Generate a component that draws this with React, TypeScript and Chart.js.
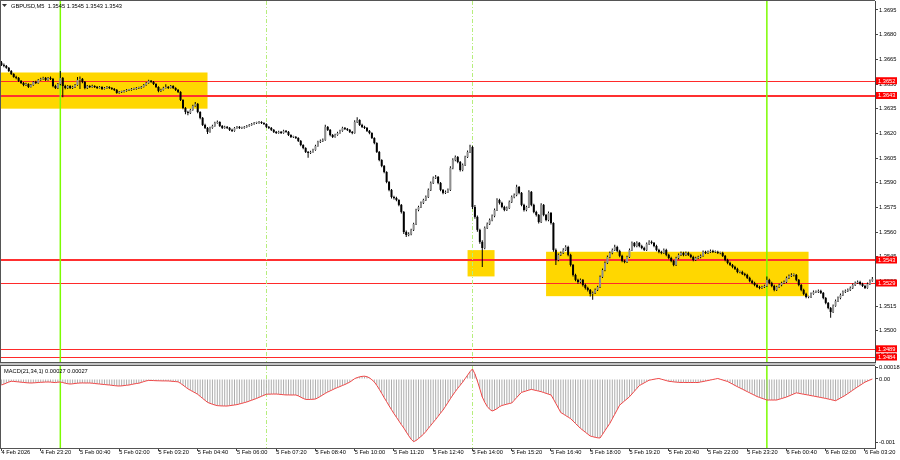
import React, { useEffect, useRef } from "react";
import { Chart, registerables } from "chart.js";

Chart.register(...registerables);

// ---------------- DATA ----------------
const TITLE_TEXT = "GBPUSD,M5  1.3545 1.3545 1.3543 1.3543";
const MACD_TEXT = "MACD(21,34,1) 0.00027 0.00027";

// first bar: 4 Feb 2026 22:00, M5 bars
const firstOpen = 1.3663;

const closes = [
1.36616,1.36610,1.36598,1.36579,1.36561,1.36543,1.36537,1.36519,1.36506,1.36494,
1.36500,1.36482,1.36494,1.36513,1.36506,1.36525,1.36531,1.36537,1.36525,1.36537,
1.36531,1.36488,1.36476,1.36500,1.36537,1.36488,1.36476,1.36488,1.36476,1.36482,
1.36494,1.36525,1.36531,1.36513,1.36476,1.36488,1.36482,1.36488,1.36482,1.36476,
1.36482,1.36470,1.36476,1.36482,1.36476,1.36470,1.36464,1.36446,1.36452,1.36452,
1.36458,1.36464,1.36464,1.36470,1.36470,1.36476,1.36476,1.36482,1.36494,1.36506,
1.36519,1.36513,1.36500,1.36482,1.36458,1.36464,1.36476,1.36482,1.36476,1.36488,
1.36476,1.36464,1.36452,1.36403,1.36354,1.36330,1.36324,1.36342,1.36367,1.36379,
1.36330,1.36294,1.36251,1.36233,1.36209,1.36233,1.36245,1.36263,1.36269,1.36245,
1.36233,1.36239,1.36233,1.36221,1.36215,1.36233,1.36239,1.36233,1.36233,1.36239,
1.36245,1.36251,1.36257,1.36263,1.36263,1.36269,1.36263,1.36257,1.36239,1.36233,
1.36221,1.36209,1.36202,1.36209,1.36202,1.36215,1.36209,1.36190,1.36178,1.36178,
1.36172,1.36154,1.36129,1.36111,1.36087,1.36081,1.36087,1.36099,1.36123,1.36148,
1.36154,1.36160,1.36239,1.36221,1.36190,1.36178,1.36190,1.36202,1.36215,1.36233,
1.36227,1.36221,1.36209,1.36202,1.36269,1.36281,1.36251,1.36239,1.36233,1.36215,
1.36202,1.36172,1.36141,1.36087,1.36038,1.36002,1.35965,1.35904,1.35856,1.35813,
1.35807,1.35795,1.35765,1.35722,1.35600,1.35582,1.35588,1.35613,1.35649,1.35734,
1.35752,1.35777,1.35795,1.35813,1.35856,1.35898,1.35929,1.35935,1.35898,1.35856,
1.35838,1.35844,1.35856,1.35990,1.36038,1.36056,1.36026,1.35977,1.36008,1.36056,
1.36087,1.36117,1.35752,1.35692,1.35613,1.35540,1.35503,1.35625,1.35649,1.35673,
1.35698,1.35734,1.35795,1.35777,1.35752,1.35734,1.35746,1.35783,1.35813,1.35825,
1.35874,1.35838,1.35765,1.35734,1.35752,1.35844,1.35765,1.35722,1.35704,1.35661,
1.35765,1.35704,1.35673,1.35716,1.35655,1.35491,1.35430,1.35461,1.35473,1.35491,
1.35509,1.35461,1.35400,1.35339,1.35309,1.35296,1.35309,1.35278,1.35260,1.35248,
1.35224,1.35230,1.35248,1.35266,1.35327,1.35369,1.35412,1.35448,1.35473,1.35491,
1.35509,1.35485,1.35455,1.35424,1.35418,1.35448,1.35491,1.35534,1.35515,1.35534,
1.35515,1.35503,1.35491,1.35528,1.35540,1.35534,1.35515,1.35491,1.35479,1.35473,
1.35491,1.35461,1.35442,1.35424,1.35400,1.35442,1.35461,1.35473,1.35461,1.35473,
1.35461,1.35448,1.35430,1.35442,1.35448,1.35455,1.35479,1.35473,1.35479,1.35485,
1.35479,1.35479,1.35473,1.35473,1.35455,1.35430,1.35412,1.35400,1.35388,1.35376,
1.35357,1.35357,1.35345,1.35339,1.35321,1.35303,1.35290,1.35278,1.35266,1.35260,
1.35266,1.35272,1.35309,1.35290,1.35272,1.35248,1.35266,1.35278,1.35290,1.35296,
1.35321,1.35333,1.35339,1.35339,1.35309,1.35278,1.35248,1.35224,1.35205,1.35205,
1.35224,1.35236,1.35236,1.35242,1.35230,1.35199,1.35169,1.35138,1.35114,1.35151,
1.35181,1.35199,1.35217,1.35236,1.35242,1.35248,1.35260,1.35278,1.35290,1.35296,
1.35284,1.35272,1.35260,1.35284,1.35303,1.35315,
];

const highs = [
1.36640,1.36624,1.36615,1.36603,1.36585,1.36566,1.36550,1.36542,1.36524,1.36512,
1.36508,1.36505,1.36500,1.36519,1.36520,1.36530,1.36538,1.36544,1.36542,1.36543,
1.36545,1.36536,1.36496,1.36506,1.36579,1.36542,1.36495,1.36494,1.36493,1.36489,
1.36500,1.36543,1.36546,1.36536,1.36518,1.36494,1.36493,1.36495,1.36492,1.36488,
1.36488,1.36486,1.36482,1.36488,1.36487,1.36480,1.36475,1.36469,1.36458,1.36459,
1.36464,1.36470,1.36470,1.36476,1.36477,1.36482,1.36483,1.36488,1.36500,1.36512,
1.36526,1.36525,1.36518,1.36504,1.36487,1.36471,1.36483,1.36498,1.36488,1.36494,
1.36493,1.36480,1.36469,1.36456,1.36408,1.36360,1.36338,1.36349,1.36374,1.36390,
1.36384,1.36335,1.36299,1.36258,1.36239,1.36240,1.36252,1.36270,1.36278,1.36274,
1.36250,1.36246,1.36244,1.36238,1.36228,1.36239,1.36245,1.36244,1.36240,1.36245,
1.36251,1.36257,1.36263,1.36269,1.36270,1.36275,1.36274,1.36268,1.36262,1.36245,
1.36238,1.36226,1.36215,1.36216,1.36214,1.36222,1.36220,1.36214,1.36195,1.36185,
1.36184,1.36177,1.36159,1.36134,1.36116,1.36093,1.36094,1.36106,1.36130,1.36155,
1.36162,1.36168,1.36252,1.36244,1.36226,1.36196,1.36197,1.36209,1.36222,1.36240,
1.36239,1.36232,1.36226,1.36214,1.36280,1.36298,1.36286,1.36258,1.36246,1.36238,
1.36220,1.36207,1.36177,1.36146,1.36092,1.36043,1.36008,1.35970,1.35910,1.35862,
1.35820,1.35814,1.35800,1.35770,1.35728,1.35610,1.35598,1.35620,1.35656,1.35742,
1.35760,1.35785,1.35803,1.35822,1.35864,1.35907,1.35938,1.35947,1.35940,1.35904,
1.35862,1.35852,1.35865,1.36000,1.36048,1.36066,1.36062,1.36032,1.36016,1.36064,
1.36096,1.36130,1.36124,1.35765,1.35700,1.35620,1.35550,1.35634,1.35658,1.35682,
1.35706,1.35743,1.35805,1.35802,1.35784,1.35760,1.35755,1.35792,1.35822,1.35834,
1.35888,1.35880,1.35844,1.35772,1.35760,1.35854,1.35850,1.35772,1.35730,1.35710,
1.35775,1.35771,1.35710,1.35725,1.35722,1.35660,1.35500,1.35470,1.35482,1.35502,
1.35520,1.35516,1.35468,1.35406,1.35346,1.35316,1.35318,1.35315,1.35285,1.35267,
1.35254,1.35239,1.35256,1.35274,1.35336,1.35378,1.35421,1.35457,1.35482,1.35500,
1.35522,1.35516,1.35492,1.35462,1.35432,1.35456,1.35500,1.35543,1.35540,1.35544,
1.35540,1.35522,1.35510,1.35537,1.35550,1.35548,1.35540,1.35522,1.35498,1.35486,
1.35500,1.35498,1.35468,1.35450,1.35430,1.35450,1.35470,1.35482,1.35480,1.35481,
1.35480,1.35468,1.35455,1.35450,1.35456,1.35463,1.35488,1.35486,1.35487,1.35494,
1.35492,1.35487,1.35486,1.35480,1.35480,1.35461,1.35437,1.35419,1.35406,1.35395,
1.35383,1.35365,1.35364,1.35352,1.35346,1.35328,1.35310,1.35297,1.35285,1.35273,
1.35274,1.35280,1.35330,1.35316,1.35298,1.35279,1.35274,1.35286,1.35298,1.35305,
1.35330,1.35342,1.35350,1.35348,1.35345,1.35315,1.35284,1.35255,1.35231,1.35213,
1.35232,1.35244,1.35244,1.35250,1.35249,1.35236,1.35205,1.35175,1.35144,1.35160,
1.35190,1.35208,1.35226,1.35245,1.35251,1.35257,1.35269,1.35287,1.35299,1.35306,
1.35303,1.35291,1.35279,1.35293,1.35312,1.35326,
];

const lows = [
1.36610,1.36602,1.36592,1.36573,1.36555,1.36538,1.36529,1.36512,1.36500,1.36486,
1.36488,1.36476,1.36478,1.36490,1.36500,1.36502,1.36520,1.36526,1.36519,1.36520,
1.36524,1.36480,1.36469,1.36470,1.36492,1.36420,1.36468,1.36470,1.36469,1.36470,
1.36476,1.36490,1.36470,1.36505,1.36468,1.36470,1.36476,1.36477,1.36476,1.36470,
1.36472,1.36464,1.36466,1.36471,1.36470,1.36464,1.36458,1.36440,1.36440,1.36446,
1.36448,1.36453,1.36458,1.36459,1.36464,1.36465,1.36470,1.36471,1.36478,1.36490,
1.36502,1.36507,1.36494,1.36476,1.36450,1.36452,1.36460,1.36472,1.36470,1.36472,
1.36470,1.36458,1.36446,1.36396,1.36346,1.36316,1.36310,1.36318,1.36338,1.36362,
1.36322,1.36286,1.36244,1.36226,1.36196,1.36204,1.36228,1.36240,1.36258,1.36239,
1.36226,1.36228,1.36226,1.36215,1.36208,1.36210,1.36228,1.36227,1.36226,1.36228,
1.36234,1.36240,1.36246,1.36252,1.36257,1.36258,1.36257,1.36251,1.36232,1.36226,
1.36214,1.36202,1.36196,1.36197,1.36196,1.36198,1.36203,1.36184,1.36171,1.36171,
1.36165,1.36148,1.36122,1.36104,1.36080,1.36052,1.36074,1.36082,1.36094,1.36118,
1.36142,1.36148,1.36155,1.36214,1.36183,1.36171,1.36173,1.36186,1.36198,1.36210,
1.36220,1.36214,1.36202,1.36195,1.36198,1.36263,1.36244,1.36232,1.36226,1.36208,
1.36195,1.36165,1.36134,1.36080,1.36030,1.35994,1.35957,1.35896,1.35848,1.35804,
1.35798,1.35787,1.35756,1.35713,1.35588,1.35570,1.35574,1.35580,1.35606,1.35642,
1.35726,1.35746,1.35770,1.35788,1.35807,1.35850,1.35892,1.35922,1.35890,1.35848,
1.35830,1.35831,1.35838,1.35850,1.35982,1.36030,1.36018,1.35968,1.35970,1.36002,
1.36050,1.36080,1.35740,1.35680,1.35602,1.35528,1.35388,1.35496,1.35618,1.35642,
1.35666,1.35690,1.35728,1.35768,1.35744,1.35726,1.35728,1.35740,1.35776,1.35806,
1.35818,1.35830,1.35756,1.35725,1.35726,1.35746,1.35756,1.35714,1.35695,1.35652,
1.35655,1.35696,1.35665,1.35666,1.35646,1.35480,1.35400,1.35422,1.35454,1.35466,
1.35484,1.35452,1.35390,1.35330,1.35300,1.35286,1.35289,1.35269,1.35251,1.35238,
1.35208,1.35188,1.35223,1.35241,1.35260,1.35320,1.35362,1.35405,1.35441,1.35465,
1.35484,1.35477,1.35447,1.35416,1.35410,1.35412,1.35442,1.35485,1.35508,1.35508,
1.35507,1.35495,1.35484,1.35485,1.35521,1.35526,1.35508,1.35483,1.35471,1.35465,
1.35467,1.35453,1.35434,1.35416,1.35392,1.35394,1.35435,1.35454,1.35453,1.35454,
1.35454,1.35440,1.35422,1.35424,1.35436,1.35441,1.35450,1.35466,1.35467,1.35473,
1.35472,1.35472,1.35466,1.35465,1.35448,1.35423,1.35404,1.35393,1.35380,1.35369,
1.35350,1.35350,1.35338,1.35331,1.35314,1.35295,1.35282,1.35270,1.35259,1.35252,
1.35253,1.35259,1.35265,1.35282,1.35264,1.35240,1.35241,1.35260,1.35271,1.35284,
1.35290,1.35315,1.35326,1.35330,1.35301,1.35270,1.35240,1.35216,1.35197,1.35198,
1.35199,1.35218,1.35229,1.35230,1.35223,1.35191,1.35161,1.35130,1.35078,1.35108,
1.35145,1.35175,1.35192,1.35211,1.35230,1.35236,1.35242,1.35254,1.35272,1.35284,
1.35276,1.35265,1.35253,1.35255,1.35278,1.35297,
];

// MACD(21,34,1): main histogram; signal (SMA 1) equals main
const macd = [
-0.000094,-0.000080,-0.000064,-0.000048,-0.000036,-0.000038,-0.000042,-0.000046,-0.000050,-0.000054,
-0.000058,-0.000061,-0.000063,-0.000061,-0.000058,-0.000055,-0.000052,-0.000050,-0.000048,-0.000047,
-0.000049,-0.000053,-0.000056,-0.000050,-0.000047,-0.000056,-0.000066,-0.000074,-0.000079,-0.000076,
-0.000070,-0.000066,-0.000063,-0.000062,-0.000063,-0.000063,-0.000063,-0.000066,-0.000071,-0.000075,
-0.000079,-0.000083,-0.000087,-0.000091,-0.000094,-0.000099,-0.000104,-0.000108,-0.000110,-0.000108,
-0.000103,-0.000098,-0.000094,-0.000086,-0.000078,-0.000071,-0.000066,-0.000054,-0.000041,-0.000030,
-0.000022,-0.000023,-0.000025,-0.000027,-0.000028,-0.000029,-0.000030,-0.000030,-0.000031,-0.000034,
-0.000038,-0.000041,-0.000044,-0.000068,-0.000096,-0.000125,-0.000154,-0.000176,-0.000197,-0.000218,
-0.000240,-0.000272,-0.000304,-0.000335,-0.000366,-0.000382,-0.000396,-0.000408,-0.000418,-0.000421,
-0.000423,-0.000424,-0.000424,-0.000419,-0.000413,-0.000408,-0.000402,-0.000392,-0.000382,-0.000371,
-0.000361,-0.000347,-0.000333,-0.000319,-0.000305,-0.000288,-0.000272,-0.000255,-0.000239,-0.000238,
-0.000237,-0.000236,-0.000236,-0.000239,-0.000243,-0.000247,-0.000250,-0.000250,-0.000251,-0.000251,
-0.000251,-0.000265,-0.000285,-0.000305,-0.000320,-0.000322,-0.000320,-0.000318,-0.000314,-0.000295,
-0.000273,-0.000250,-0.000225,-0.000205,-0.000186,-0.000168,-0.000149,-0.000134,-0.000118,-0.000102,
-0.000086,-0.000068,-0.000049,-0.000022,0.000006,0.000022,0.000034,0.000041,0.000044,0.000036,
0.000018,-0.000012,-0.000047,-0.000100,-0.000160,-0.000225,-0.000292,-0.000355,-0.000420,-0.000482,
-0.000543,-0.000600,-0.000658,-0.000715,-0.000769,-0.000830,-0.000890,-0.000945,-0.000983,-0.000965,
-0.000935,-0.000902,-0.000868,-0.000825,-0.000775,-0.000728,-0.000681,-0.000635,-0.000585,-0.000535,
-0.000487,-0.000430,-0.000370,-0.000310,-0.000251,-0.000198,-0.000145,-0.000098,-0.000050,0.000005,
0.000060,0.000115,0.000157,0.000080,-0.000030,-0.000155,-0.000283,-0.000365,-0.000430,-0.000475,
-0.000502,-0.000488,-0.000465,-0.000435,-0.000416,-0.000405,-0.000395,-0.000385,-0.000377,-0.000335,
-0.000292,-0.000250,-0.000210,-0.000198,-0.000186,-0.000174,-0.000163,-0.000172,-0.000181,-0.000190,
-0.000199,-0.000212,-0.000225,-0.000238,-0.000250,-0.000315,-0.000385,-0.000455,-0.000526,-0.000550,
-0.000574,-0.000598,-0.000622,-0.000660,-0.000698,-0.000736,-0.000774,-0.000804,-0.000835,-0.000865,
-0.000895,-0.000905,-0.000915,-0.000923,-0.000926,-0.000870,-0.000810,-0.000753,-0.000696,-0.000625,
-0.000553,-0.000482,-0.000410,-0.000377,-0.000344,-0.000312,-0.000279,-0.000235,-0.000192,-0.000148,
-0.000104,-0.000083,-0.000061,-0.000040,-0.000019,-0.000012,-0.000004,0.000003,0.000008,-0.000003,
-0.000014,-0.000025,-0.000036,-0.000040,-0.000045,-0.000049,-0.000053,-0.000054,-0.000054,-0.000055,
-0.000055,-0.000055,-0.000055,-0.000055,-0.000055,-0.000047,-0.000040,-0.000032,-0.000024,-0.000016,
-0.000008,0.000000,0.000008,-0.000004,-0.000016,-0.000028,-0.000039,-0.000060,-0.000080,-0.000101,
-0.000121,-0.000140,-0.000159,-0.000179,-0.000198,-0.000217,-0.000237,-0.000256,-0.000275,-0.000289,
-0.000303,-0.000316,-0.000330,-0.000330,-0.000330,-0.000330,-0.000330,-0.000318,-0.000307,-0.000295,
-0.000283,-0.000267,-0.000250,-0.000234,-0.000217,-0.000224,-0.000232,-0.000239,-0.000246,-0.000253,
-0.000261,-0.000268,-0.000275,-0.000283,-0.000290,-0.000298,-0.000305,-0.000314,-0.000323,-0.000332,
-0.000341,-0.000320,-0.000299,-0.000277,-0.000256,-0.000229,-0.000203,-0.000176,-0.000149,-0.000124,
-0.000099,-0.000074,-0.000049,-0.000033,-0.000016,0.000000,
];

// time axis labels, one every 16 bars (80 minutes)
const timeTickLabels = [
  "4 Feb 2026", "4 Feb 23:20", "5 Feb 00:40", "5 Feb 02:00", "5 Feb 03:20", "5 Feb 04:40",
  "5 Feb 06:00", "5 Feb 07:20", "5 Feb 08:40", "5 Feb 10:00", "5 Feb 11:20", "5 Feb 12:40",
  "5 Feb 14:00", "5 Feb 15:20", "5 Feb 16:40", "5 Feb 18:00", "5 Feb 19:20", "5 Feb 20:40",
  "5 Feb 22:00", "5 Feb 23:20", "6 Feb 00:40", "6 Feb 02:00", "6 Feb 03:20",
];
const TICK_EVERY_BARS = 16;

const priceTicks = [
  1.3485, 1.35, 1.3515, 1.353, 1.3545, 1.356, 1.3575, 1.359, 1.3605, 1.362,
  1.3635, 1.365, 1.3665, 1.368, 1.3695,
];
const macdTicks = [0.00018, 0, -0.001];
const macdTickLabels = ["0.00018", "0.00", "-0.001"];

// horizontal levels (red lines with price tags)
const levelPrices = [1.3652, 1.3643, 1.3543, 1.3529, 1.3489, 1.3484];
// yellow zones (bar index from/to, price top/bottom)
const zoneFromBar = [-1, 190, 222];
const zoneToBar = [84, 201, 329];
const zoneTop = [1.3657, 1.3549, 1.3548];
const zoneBottom = [1.3635, 1.3533, 1.3521];
// vertical markers (bar index)
const dayBreakBars = [24, 312];
const sessionBars = [108, 192];

// ---------------- STYLE / LAYOUT ----------------
const X_MIN = -0.18;
const X_MAX = 356.08;
const PRICE_MIN = 1.348097;
const PRICE_MAX = 1.370047;
const MACD_MIN = -0.001083;
const MACD_MAX = 0.000204;
const levelWidths = [1, 2, 2, 1, 1, 1];
const FONT_FAMILY = "'Liberation Sans', Arial, sans-serif";
const FONT_SIZE = 5.7;
const FONT = { family: FONT_FAMILY, size: FONT_SIZE };
const CSS_FONT = `${FONT_SIZE}px ${FONT_FAMILY}`;
const FRAME = "#555555";

function drawVLines(chart: any) {
  const { ctx, chartArea: a } = chart;
  const x = chart.scales.x;
  ctx.save();
  ctx.beginPath();
  ctx.rect(a.left, a.top, a.right - a.left, a.bottom - a.top);
  ctx.clip();
  ctx.strokeStyle = "#7cfc00";
  ctx.lineWidth = 1.5;
  ctx.setLineDash([]);
  for (const b of dayBreakBars) {
    const px = x.getPixelForValue(b);
    ctx.beginPath();
    ctx.moveTo(px, a.top);
    ctx.lineTo(px, a.bottom);
    ctx.stroke();
  }
  ctx.strokeStyle = "#b6ee7c";
  ctx.lineWidth = 1;
  ctx.setLineDash([4, 2, 1, 2]);
  for (const b of sessionBars) {
    const px = Math.round(x.getPixelForValue(b)) + 0.5;
    ctx.beginPath();
    ctx.moveTo(px, a.top);
    ctx.lineTo(px, a.bottom);
    ctx.stroke();
  }
  ctx.restore();
}

const pricePlugin = {
  id: "priceDecor",
  beforeDatasetsDraw(chart: any) {
    const { ctx, chartArea: a } = chart;
    const x = chart.scales.x;
    const y = chart.scales.y;
    ctx.save();
    ctx.beginPath();
    ctx.rect(a.left, a.top, a.right - a.left, a.bottom - a.top);
    ctx.clip();
    ctx.fillStyle = "#ffd700";
    zoneFromBar.forEach((from, k) => {
      const x0 = x.getPixelForValue(from);
      const x1 = x.getPixelForValue(zoneToBar[k]);
      const y0 = y.getPixelForValue(zoneTop[k]);
      const y1 = y.getPixelForValue(zoneBottom[k]);
      ctx.fillRect(x0, y0, x1 - x0, y1 - y0);
    });
    levelPrices.forEach((p, k) => {
      const w = levelWidths[k];
      let py = y.getPixelForValue(p);
      py = w % 2 === 1 ? Math.round(py) + 0.5 : Math.round(py);
      ctx.strokeStyle = w > 1 ? "#ff3030" : "#ff2a2a";
      ctx.lineWidth = w;
      ctx.beginPath();
      ctx.moveTo(a.left, py);
      ctx.lineTo(a.right, py);
      ctx.stroke();
    });
    ctx.restore();
    drawVLines(chart);
  },
  afterDraw(chart: any) {
    const { ctx, chartArea: a } = chart;
    const y = chart.scales.y;
    ctx.save();
    ctx.fillStyle = FRAME;
    ctx.fillRect(a.left - 1, a.top - 1, a.right - a.left + 1, 1);
    ctx.fillRect(a.left - 1, a.top - 1, 1, a.bottom - a.top + 2);
    ctx.fillRect(a.left - 1, a.bottom, a.right - a.left + 1, 1);
    // price tags
    ctx.font = CSS_FONT;
    ctx.textBaseline = "middle";
    ctx.textAlign = "left";
    levelPrices.forEach((p) => {
      const py = y.getPixelForValue(p);
      ctx.fillStyle = "#ff0000";
      ctx.fillRect(a.right + 1, py - 3.5, 21, 7);
      ctx.fillStyle = "#ffffff";
      ctx.fillText(p.toFixed(4), a.right + 3, py + 0.3);
    });
    // title
    ctx.fillStyle = "#333";
    ctx.beginPath();
    ctx.moveTo(2, 4);
    ctx.lineTo(7, 4);
    ctx.lineTo(4.5, 7);
    ctx.closePath();
    ctx.fill();
    ctx.fillStyle = "#000";
    ctx.fillText(TITLE_TEXT, 11, 6);
    ctx.restore();
  },
};

const macdPlugin = {
  id: "macdDecor",
  beforeDraw(chart: any) {
    const { ctx, chartArea: a } = chart;
    ctx.save();
    ctx.fillStyle = "#c4c4c4";
    ctx.fillRect(0, 0, a.right + 1, a.top - 1);
    ctx.restore();
  },
  beforeDatasetsDraw(chart: any) {
    drawVLines(chart);
  },
  afterDraw(chart: any) {
    const { ctx, chartArea: a } = chart;
    ctx.save();
    ctx.fillStyle = FRAME;
    ctx.fillRect(a.left - 1, a.top - 1, a.right - a.left + 1, 1);
    ctx.fillRect(a.left - 1, a.top - 1, 1, a.bottom - a.top + 2);
    ctx.fillRect(a.left - 1, a.bottom, a.right - a.left + 1, 1);
    ctx.font = CSS_FONT;
    ctx.textBaseline = "middle";
    ctx.textAlign = "left";
    ctx.fillStyle = "#000";
    ctx.fillText(MACD_TEXT, 4, a.top + 5.7);
    ctx.restore();
  },
};

function xScale(show: boolean) {
  const s: any = {
    type: "linear",
    min: X_MIN,
    max: X_MAX,
    offset: false,
    display: show,
    afterBuildTicks: (sc: any) => {
      sc.ticks = timeTickLabels.map((_, k) => ({ value: k * TICK_EVERY_BARS }));
    },
    ticks: {
      autoSkip: false,
      maxRotation: 0,
      minRotation: 0,
      align: "start",
      padding: -1.7,
      color: "#000",
      font: FONT,
      callback: (_v: any, i: number) => timeTickLabels[i],
    },
    grid: { drawOnChartArea: false, drawTicks: true, tickLength: 3, color: "#444", offset: false },
    border: { display: false },
  };
  if (show) {
    s.afterFit = (sc: any) => {
      sc.height = 12;
      sc.paddingLeft = 0;
      sc.paddingRight = 0;
    };
  }
  return s;
}

function yScale(min: number, max: number, ticks: number[], label: (v: number, i: number) => string) {
  return {
    type: "linear",
    position: "right",
    min,
    max,
    afterBuildTicks: (sc: any) => {
      sc.ticks = ticks.map((v) => ({ value: v }));
    },
    afterFit: (sc: any) => {
      sc.width = 25;
      sc.paddingTop = 0;
      sc.paddingBottom = 0;
    },
    ticks: {
      autoSkip: false,
      padding: 1,
      color: "#000",
      font: FONT,
      callback: (v: any, i: number) => label(Number(v), i),
    },
    grid: { drawOnChartArea: false, drawTicks: true, tickLength: 3, color: "#444" },
    border: { display: true, color: "#444", width: 1 },
  };
}

export default function App() {
  const priceRef = useRef<HTMLCanvasElement>(null);
  const macdRef = useRef<HTMLCanvasElement>(null);

  useEffect(() => {
    // M5 forex bars open at the previous bar's close
    const opens = closes.map((c, i) => (i === 0 ? firstOpen : closes[i - 1]));
    const wickData = closes.map((c, i) => ({
      x: i,
      y: [Math.min(lows[i], opens[i], c), Math.max(highs[i], opens[i], c)],
    }));
    const bodyData = closes.map((c, i) => ({ x: i, y: [opens[i], c] }));
    const bodyColors = closes.map((c, i) => (c >= opens[i] ? "#8f8f8f" : "#000000"));

    const priceChart = new Chart(priceRef.current as HTMLCanvasElement, {
      type: "bar",
      data: {
        datasets: [
          {
            data: bodyData as any,
            backgroundColor: bodyColors,
            barThickness: 2,
            minBarLength: 1,
            grouped: false,
            inflateAmount: 0,
            order: 0,
          } as any,
          {
            data: wickData as any,
            backgroundColor: "#000000",
            barThickness: 1,
            grouped: false,
            inflateAmount: 0,
            order: 1,
          } as any,
        ],
      },
      options: {
        animation: false,
        responsive: false,
        devicePixelRatio: 1,
        events: [],
        layout: { padding: { left: 1, top: 1, right: 0, bottom: 1 } },
        plugins: { legend: { display: false }, tooltip: { enabled: false } },
        scales: {
          x: xScale(false),
          y: yScale(PRICE_MIN, PRICE_MAX, priceTicks, (v) => v.toFixed(4)),
        } as any,
      },
      plugins: [pricePlugin],
    });

    const macdPts = macd.map((v, i) => ({ x: i, y: v }));
    const macdChart = new Chart(macdRef.current as HTMLCanvasElement, {
      type: "bar",
      data: {
        datasets: [
          {
            type: "line",
            data: macdPts as any,
            borderColor: "#f04646",
            borderWidth: 1,
            pointRadius: 0,
            tension: 0,
            order: 0,
          } as any,
          {
            type: "bar",
            data: macdPts as any,
            backgroundColor: "#adadad",
            barThickness: 1,
            grouped: false,
            inflateAmount: 0,
            order: 1,
          } as any,
        ],
      },
      options: {
        animation: false,
        responsive: false,
        devicePixelRatio: 1,
        events: [],
        layout: { padding: { left: 1, top: 3, right: 0, bottom: 0 } },
        plugins: { legend: { display: false }, tooltip: { enabled: false } },
        scales: {
          x: xScale(true),
          y: yScale(MACD_MIN, MACD_MAX, macdTicks, (_v, i) => macdTickLabels[i]),
        } as any,
      },
      plugins: [macdPlugin],
    });

    return () => {
      priceChart.destroy();
      macdChart.destroy();
    };
  }, []);

  return (
    <div style={{ position: "fixed", left: 0, top: 0, width: 900, height: 460, background: "#ffffff" }}>
      <canvas
        ref={priceRef}
        width={900}
        height={363}
        style={{ position: "absolute", left: 0, top: 0, width: 900, height: 363 }}
      />
      <canvas
        ref={macdRef}
        width={900}
        height={97}
        style={{ position: "absolute", left: 0, top: 363, width: 900, height: 97 }}
      />
    </div>
  );
}
